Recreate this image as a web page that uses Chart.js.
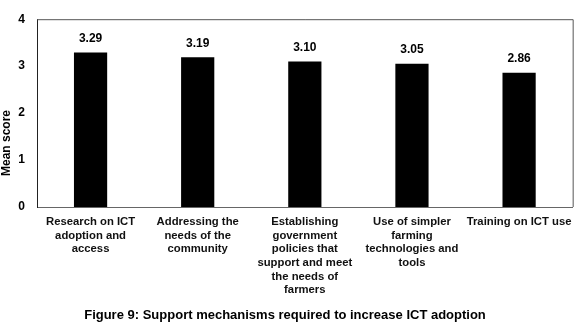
<!DOCTYPE html>
<html>
<head>
<meta charset="utf-8">
<script src="https://cdn.jsdelivr.net/npm/chart.js@4"></script>
<style>
  html, body { margin: 0; padding: 0; background: #fff; }
  #wrap { width: 580px; height: 329px; }
</style>
</head>
<body>
<div id="wrap"><canvas id="supportChart" width="580" height="329"></canvas></div>
<script>
const categories = [
    ['Research on ICT', 'adoption and', 'access'],
    ['Addressing the', 'needs of the', 'community'],
    ['Establishing', 'government', 'policies that', 'support and meet', 'the needs of', 'farmers'],
    ['Use of simpler', 'farming', 'technologies and', 'tools'],
    ['Training on ICT use'],
];
const meanScores = [3.29, 3.19, 3.10, 3.05, 2.86];
const yTicks = [0, 1, 2, 3, 4];
const yTitle = 'Mean score';
const caption = 'Figure 9: Support mechanisms required to increase ICT adoption';

const FONT = '"Liberation Sans", Arial, sans-serif';

// value labels above the bars
const valueLabels = {
    id: 'valueLabels',
    afterDatasetsDraw(chart) {
        const ctx = chart.ctx;
        const meta = chart.getDatasetMeta(0);
        ctx.save();
        ctx.font = 'bold 12px ' + FONT;
        ctx.fillStyle = '#000';
        ctx.textAlign = 'center';
        ctx.textBaseline = 'bottom';
        meta.data.forEach((bar, i) => {
            ctx.fillText(meanScores[i].toFixed(2), bar.x, bar.y - 8);
        });
        ctx.restore();
    },
};

// frame on top/right, the y title (sits low in the original) and the figure caption
const decorations = {
    id: 'decorations',
    afterDraw(chart) {
        const a = chart.chartArea;
        const ctx = chart.ctx;
        ctx.save();
        ctx.strokeStyle = '#555';
        ctx.lineWidth = 1;
        ctx.beginPath();
        ctx.moveTo(a.left, a.top + 0.5);
        ctx.lineTo(a.right + 0.5, a.top + 0.5);
        ctx.lineTo(a.right + 0.5, a.bottom);
        ctx.stroke();

        ctx.fillStyle = '#000';
        ctx.textAlign = 'center';
        ctx.textBaseline = 'middle';
        ctx.save();
        ctx.translate(7, 143);
        ctx.rotate(-Math.PI / 2);
        ctx.font = 'bold 12px ' + FONT;
        ctx.fillText(yTitle, 0, 0);
        ctx.restore();

        ctx.font = 'bold 13px ' + FONT;
        ctx.fillText(caption, 285, 315);
        ctx.restore();
    },
};

const ctx = document.getElementById('supportChart').getContext('2d');
new Chart(ctx, {
    type: 'bar',
    data: {
        labels: categories,
        datasets: [{
            data: meanScores,
            backgroundColor: '#000',
            borderWidth: 0,
            barPercentage: 0.31,
            categoryPercentage: 1,
        }],
    },
    options: {
        responsive: false,
        animation: false,
        layout: { padding: { top: 12, right: 5, left: 0, bottom: 26 } },
        plugins: {
            legend: { display: false },
            tooltip: { enabled: false },
        },
        scales: {
            x: {
                grid: { display: false, drawTicks: false },
                border: { color: '#666', width: 1 },
                ticks: {
                    color: '#111',
                    padding: 8,
                    maxRotation: 0,
                    autoSkip: false,
                    font: { family: FONT, size: 11.3, weight: 'bold', lineHeight: 1.21 },
                },
                afterFit: (scale) => { scale.height = 96; },
            },
            y: {
                min: 0,
                max: 4,
                grid: { display: false, drawTicks: false },
                border: { color: '#222', width: 1 },
                afterBuildTicks: (scale) => { scale.ticks = yTicks.map((v) => ({ value: v })); },
                ticks: {
                    color: '#000',
                    padding: 12,
                    font: { family: FONT, size: 12, weight: 'bold' },
                },
                afterFit: (scale) => { scale.width = 37; },
            },
        },
    },
    plugins: [valueLabels, decorations],
});
</script>
</body>
</html>
